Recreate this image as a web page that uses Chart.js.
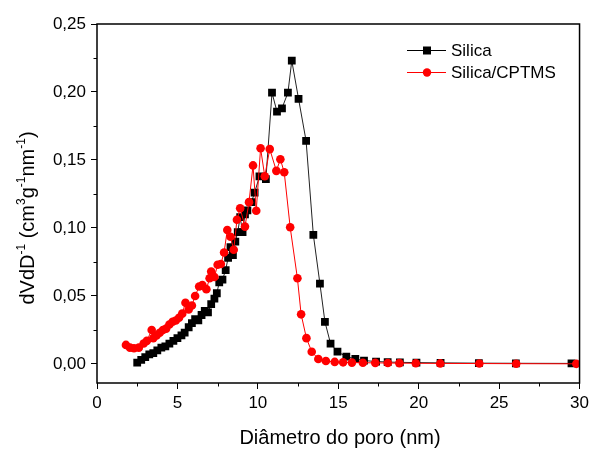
<!DOCTYPE html>
<html>
<head>
<meta charset="utf-8">
<script src="https://cdn.jsdelivr.net/npm/chart.js@4.4.1/dist/chart.umd.min.js"></script>
<style>
  html, body { margin: 0; padding: 0; background: #fff; }
</style>
</head>
<body>
<canvas id="poreChart" width="593" height="449"></canvas>
<script>
// pore size distribution
const silicaX = [2.5, 2.75, 3.0, 3.25, 3.5, 3.75, 4.0, 4.25, 4.5, 4.75, 5.0, 5.25, 5.45, 5.7, 5.9, 6.1, 6.3, 6.5, 6.7, 6.9,
  7.1, 7.3, 7.45, 7.6, 7.8, 8.0, 8.15, 8.3, 8.45, 8.6, 8.75, 8.9, 9.05, 9.2, 9.35, 9.6, 9.8, 10.1, 10.5, 10.88,
  11.19, 11.5, 11.87, 12.11, 12.53, 13.0, 13.45, 13.86, 14.17, 14.52, 14.95, 15.5, 16.06, 16.6, 17.35, 18.07, 18.83, 19.86,
  21.36, 23.74, 26.04, 29.5];
const silicaY = [0.001, 0.003, 0.005, 0.007, 0.008, 0.010, 0.012, 0.013, 0.015, 0.017, 0.019, 0.021, 0.023, 0.027, 0.030, 0.033, 0.032, 0.036, 0.039, 0.038,
  0.044, 0.048, 0.052, 0.060, 0.062, 0.069, 0.078, 0.086, 0.080, 0.090, 0.097, 0.108, 0.097, 0.110, 0.113, 0.119, 0.126, 0.138, 0.136, 0.1995,
  0.1855, 0.188, 0.1995, 0.223, 0.195, 0.164, 0.095, 0.059, 0.031, 0.015, 0.009, 0.0054, 0.0037, 0.0025, 0.0018, 0.0014, 0.0012, 0.001,
  0.0008, 0.0006, 0.0005, 0.0004];

const cptmsX = [1.8, 2.05, 2.3, 2.6, 2.9, 3.1, 3.4, 3.5, 3.7, 3.9, 4.1, 4.3, 4.5, 4.7, 4.9, 5.1, 5.3, 5.5, 5.7, 5.9,
  6.1, 6.35, 6.55, 6.8, 7.0, 7.1, 7.3, 7.5, 7.7, 7.9, 8.1, 8.3, 8.5, 8.7, 8.9, 9.2, 9.45, 9.7, 9.9, 10.17,
  10.43, 10.74, 11.15, 11.4, 11.64, 12.01, 12.46, 12.69, 13.02, 13.35, 13.76, 14.23, 14.78, 15.3, 15.85, 16.53, 17.3, 18.08,
  18.8, 19.82, 21.34, 23.77, 26.06, 29.8];
const cptmsY = [0.014, 0.012, 0.0115, 0.012, 0.015, 0.017, 0.025, 0.019, 0.021, 0.023, 0.025, 0.026, 0.029, 0.031, 0.032, 0.034, 0.037, 0.045, 0.040, 0.043,
  0.050, 0.057, 0.058, 0.055, 0.063, 0.068, 0.064, 0.073, 0.0735, 0.082, 0.0985, 0.0936, 0.084, 0.106, 0.1145, 0.101, 0.119, 0.146, 0.1127, 0.1586,
  0.138, 0.158, 0.142, 0.1505, 0.141, 0.1005, 0.063, 0.0365, 0.019, 0.009, 0.0037, 0.0022, 0.0015, 0.0012, 0.001, 0.0009, 0.0008, 0.0007,
  0.0006, 0.0005, 0.0004, 0.0003, 0.0002, 0.0001];

const seriesNames = ['Silica', 'Silica/CPTMS'];
const xTicks = [0, 5, 10, 15, 20, 25, 30];
const yTicks = [0, 0.05, 0.10, 0.15, 0.20, 0.25];
const xTitle = 'Diâmetro do poro (nm)';

const FONT = '"Liberation Sans", Arial, sans-serif';

function toPoints(xs, ys) {
    return xs.map((x, i) => ({ x: x, y: ys[i] }));
}

function line(ctx, x1, y1, x2, y2) {
    ctx.beginPath();
    ctx.moveTo(x1, y1);
    ctx.lineTo(x2, y2);
    ctx.stroke();
}

// text with superscript pieces, centred on (cx, cy)
function drawRich(ctx, parts, cx, cy, size, supSize) {
    let total = 0;
    parts.forEach(p => {
        ctx.font = (p.sup ? supSize : size) + 'px ' + FONT;
        p.w = ctx.measureText(p.t).width;
        total += p.w;
    });
    let x = cx - total / 2;
    ctx.textAlign = 'left';
    ctx.textBaseline = 'alphabetic';
    parts.forEach(p => {
        ctx.font = (p.sup ? supSize : size) + 'px ' + FONT;
        ctx.fillText(p.t, x, p.sup ? cy + size * 0.35 - size * 0.45 : cy + size * 0.35);
        x += p.w;
    });
}

const framePlugin = {
    id: 'frame',
    afterDraw(chart) {
        const ctx = chart.ctx;
        const a = chart.chartArea;
        const xs = chart.scales.x;
        const ys = chart.scales.y;
        ctx.save();
        ctx.strokeStyle = '#000';
        ctx.fillStyle = '#000';

        ctx.lineWidth = 1.5;
        ctx.strokeRect(a.left, a.top, a.right - a.left, a.bottom - a.top);

        // minor ticks
        ctx.lineWidth = 1;
        for (let v = 2.5; v < 30; v += 5) {
            const px = Math.round(xs.getPixelForValue(v)) + 0.5;
            line(ctx, px, a.bottom, px, a.bottom + 3.5);
        }
        for (let v = 0.025; v < 0.25; v += 0.05) {
            const py = Math.round(ys.getPixelForValue(v)) + 0.5;
            line(ctx, a.left - 3.5, py, a.left, py);
        }

        // x title
        ctx.font = '20px ' + FONT;
        ctx.textAlign = 'center';
        ctx.textBaseline = 'middle';
        ctx.fillText(xTitle, 340, 438);

        // y title
        ctx.save();
        ctx.translate(27, 218);
        ctx.rotate(-Math.PI / 2);
        drawRich(ctx, [
            { t: 'dVdD' }, { t: '-1', sup: true }, { t: ' (cm' }, { t: '3', sup: true },
            { t: 'g' }, { t: '-1', sup: true }, { t: 'nm' }, { t: '-1', sup: true }, { t: ')' }
        ], 0, 0, 20, 12);
        ctx.restore();

        // legend
        ctx.font = '17px ' + FONT;
        ctx.textAlign = 'left';
        ctx.textBaseline = 'middle';
        ctx.lineWidth = 1;
        ctx.strokeStyle = '#000';
        line(ctx, 407, 50.5, 446, 50.5);
        ctx.fillStyle = '#000';
        ctx.fillRect(423, 46.5, 8, 8);
        ctx.fillText(seriesNames[0], 451, 51);

        ctx.strokeStyle = '#ff0000';
        line(ctx, 407, 72.5, 446, 72.5);
        ctx.fillStyle = '#ff0000';
        ctx.beginPath();
        ctx.arc(427, 72.5, 4.2, 0, Math.PI * 2);
        ctx.fill();
        ctx.fillStyle = '#000';
        ctx.fillText(seriesNames[1], 451, 73);

        ctx.restore();
    }
};

const ctx = document.getElementById('poreChart').getContext('2d');
new Chart(ctx, {
    type: 'line',
    data: {
        datasets: [{
            label: seriesNames[0],
            data: toPoints(silicaX, silicaY),
            borderColor: '#222',
            backgroundColor: '#000',
            borderWidth: 1,
            pointStyle: 'rect',
            pointRadius: 5.5,
            pointBorderWidth: 0,
            pointBackgroundColor: '#000',
            tension: 0,
            order: 1
        }, {
            label: seriesNames[1],
            data: toPoints(cptmsX, cptmsY),
            borderColor: '#ff0000',
            backgroundColor: '#ff0000',
            borderWidth: 1,
            pointStyle: 'circle',
            pointRadius: 4.3,
            pointBorderWidth: 0,
            pointBackgroundColor: '#ff0000',
            tension: 0,
            order: 0
        }]
    },
    options: {
        responsive: false,
        animation: false,
        devicePixelRatio: 1,
        layout: { padding: { left: 0, top: 24, right: 10, bottom: 0 } },
        plugins: {
            legend: { display: false },
            tooltip: { enabled: false }
        },
        scales: {
            x: {
                type: 'linear',
                min: 0,
                max: 30,
                afterFit(s) { s.height = 66; },
                afterBuildTicks(s) { s.ticks = xTicks.map(v => ({ value: v })); },
                border: { display: false },
                grid: { drawOnChartArea: false, drawTicks: true, tickLength: 6, color: '#000', lineWidth: 1 },
                ticks: {
                    color: '#000',
                    padding: 4,
                    maxRotation: 0,
                    font: { family: FONT, size: 17 },
                    callback: v => String(v)
                }
            },
            y: {
                type: 'linear',
                min: -0.014,
                max: 0.25,
                afterFit(s) { s.width = 97; },
                afterBuildTicks(s) { s.ticks = yTicks.map(v => ({ value: v })); },
                border: { display: false },
                grid: { drawOnChartArea: false, drawTicks: true, tickLength: 6, color: '#000', lineWidth: 1 },
                ticks: {
                    color: '#000',
                    padding: 5,
                    font: { family: FONT, size: 17 },
                    callback: v => v.toFixed(2).replace('.', ',')
                }
            }
        }
    },
    plugins: [framePlugin]
});
</script>
</body>
</html>
